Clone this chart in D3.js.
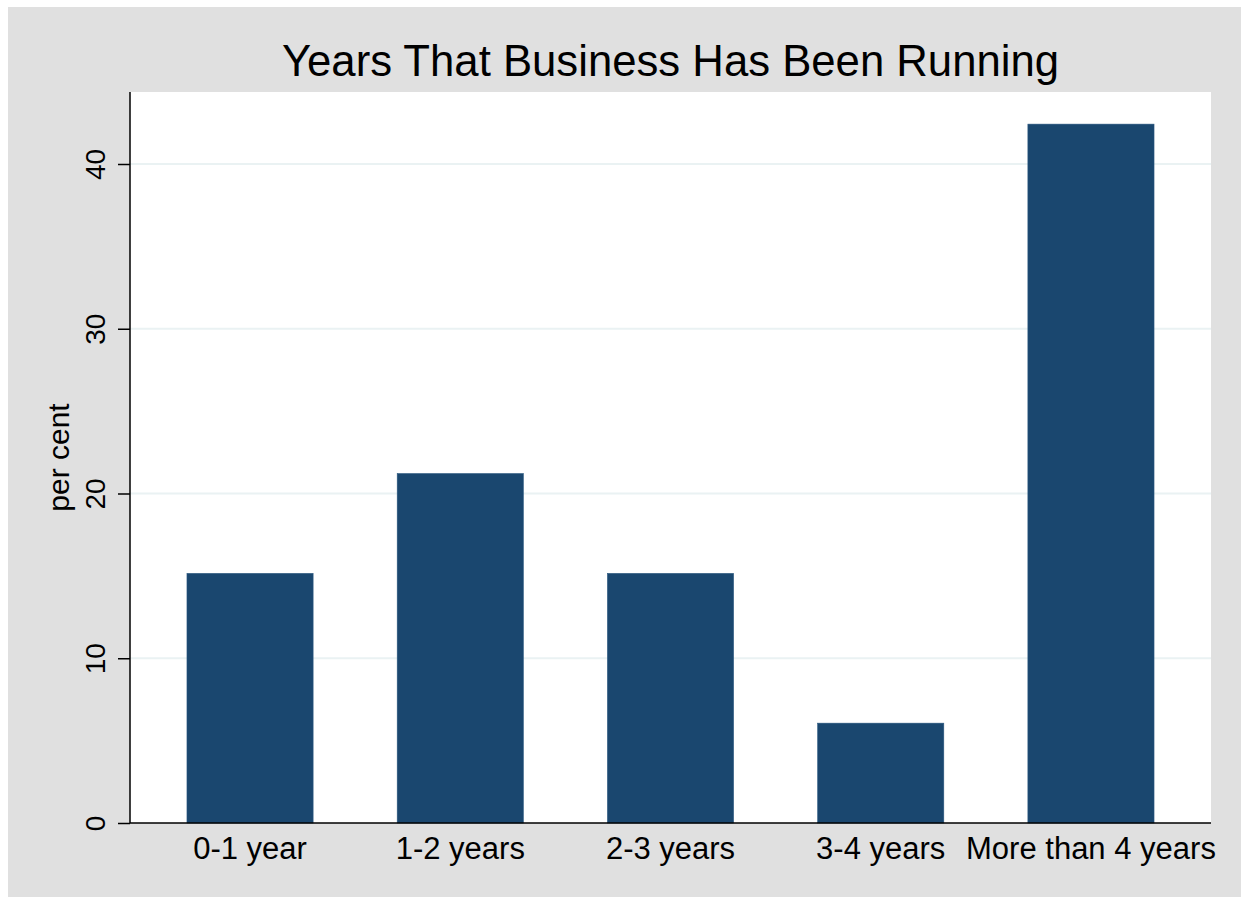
<!DOCTYPE html>
<html>
<head>
<meta charset="utf-8">
<script src="https://cdn.jsdelivr.net/npm/d3@7"></script>
<style>
  html, body { margin: 0; background: #e0e0e0; overflow: hidden; }
  svg { display: block; }
  text { font-family: "Liberation Sans", Helvetica, Arial, sans-serif; fill: #000; }
</style>
</head>
<body>
<div id="chart"></div>
<script>
const categories = ['0-1 year', '1-2 years', '2-3 years', '3-4 years', 'More than 4 years'];
const percents = [15.15, 21.21, 15.15, 6.06, 42.42];
const yTicks = [0, 10, 20, 30, 40];
const chartTitle = 'Years That Business Has Been Running';
const yTitle = 'per cent';

const width = 1241, height = 897;
const plot = { left: 130, right: 1211, top: 92, bottom: 823 };

const svg = d3.select('#chart')
  .append('svg')
  .attr('width', width)
  .attr('height', height);

// gray graph region, white margin at top and left
svg.append('rect')
  .attr('width', width).attr('height', height)
  .attr('fill', '#e0e0e0');
svg.append('rect')
  .attr('width', width).attr('height', 7)
  .attr('fill', '#fff');
svg.append('rect')
  .attr('width', 8).attr('height', height)
  .attr('fill', '#fff');

// white plot region
svg.append('rect')
  .attr('x', plot.left).attr('y', plot.top)
  .attr('width', plot.right - plot.left).attr('height', plot.bottom - plot.top)
  .attr('fill', '#fff');

const x = d3.scaleBand()
  .domain(categories)
  .range([plot.left, plot.right])
  .paddingInner(0.4)
  .paddingOuter(0.271);

const y = d3.scaleLinear()
  .domain([0, 40])
  .range([plot.bottom, 164]);

// grid lines
svg.append('g')
  .selectAll('line')
  .data(yTicks.filter(d => d > 0))
  .enter()
  .append('line')
  .attr('x1', plot.left).attr('x2', plot.right)
  .attr('y1', d => y(d)).attr('y2', d => y(d))
  .attr('stroke', '#eaf2f3')
  .attr('stroke-width', 2);

// bars
svg.append('g')
  .selectAll('rect')
  .data(percents)
  .enter()
  .append('rect')
  .attr('x', (d, i) => x(categories[i]))
  .attr('y', d => y(d))
  .attr('width', x.bandwidth())
  .attr('height', d => y(0) - y(d))
  .attr('fill', '#1a476f')
  .attr('stroke', '#2a577f')
  .attr('stroke-width', 0.6);

// y axis
const yAxis = svg.append('g')
  .attr('transform', `translate(${plot.left},0)`)
  .call(d3.axisLeft(y).tickValues(yTicks).tickSize(12).tickSizeOuter(0).tickFormat(d3.format('d')));
yAxis.select('.domain')
  .attr('d', `M0,${plot.top}V${plot.bottom}`)
  .attr('stroke', '#000').attr('stroke-width', 1.5);
yAxis.selectAll('.tick line').attr('stroke', '#000').attr('stroke-width', 1.5);
yAxis.selectAll('.tick text')
  .attr('x', null).attr('dy', null)
  .attr('transform', 'translate(-25,0) rotate(-90)')
  .attr('text-anchor', 'middle')
  .attr('font-size', 28)
  .attr('font-family', '"Liberation Sans", Helvetica, Arial, sans-serif');

// x axis
const xAxis = svg.append('g')
  .attr('transform', `translate(0,${plot.bottom})`)
  .call(d3.axisBottom(x).tickSize(0).tickSizeOuter(0));
xAxis.select('.domain')
  .attr('d', `M${plot.left},0H${plot.right}`)
  .attr('stroke', '#000').attr('stroke-width', 1.5);
xAxis.selectAll('.tick text')
  .attr('y', 36).attr('dy', null)
  .attr('font-size', 31)
  .attr('font-family', '"Liberation Sans", Helvetica, Arial, sans-serif');

// axis title
svg.append('text')
  .attr('transform', `translate(69,${(plot.top + plot.bottom) / 2}) rotate(-90)`)
  .attr('text-anchor', 'middle')
  .attr('font-size', 30)
  .text(yTitle);

// title
svg.append('text')
  .attr('x', (plot.left + plot.right) / 2)
  .attr('y', 76)
  .attr('text-anchor', 'middle')
  .attr('font-size', 43.7)
  .text(chartTitle);
</script>
</body>
</html>
